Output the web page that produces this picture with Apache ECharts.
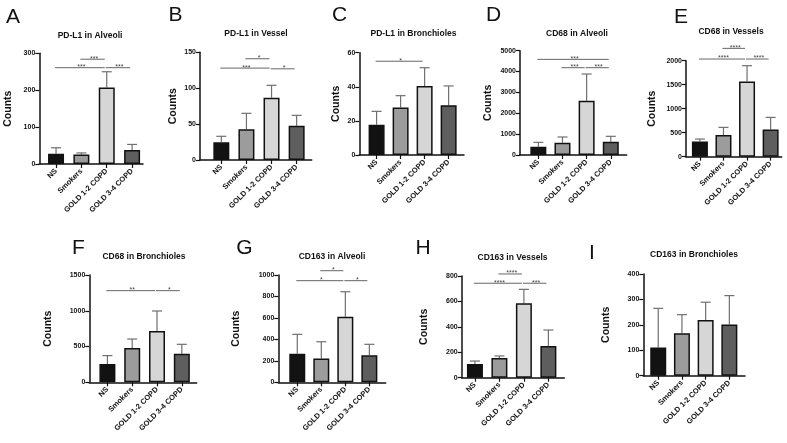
<!DOCTYPE html>
<html><head><meta charset="utf-8">
<script src="https://cdn.jsdelivr.net/npm/echarts@6/dist/echarts.min.js"></script>
<style>html,body{margin:0;padding:0;background:#fff}#c{width:787px;height:443px}</style>
</head><body><div id="c"></div>
<script>
const categories = ['NS', 'Smokers', 'GOLD 1-2 COPD', 'GOLD 3-4 COPD'];
const panelLetters = ['A', 'B', 'C', 'D', 'E', 'F', 'G', 'H', 'I'];
const panelTitles = ['PD-L1 in Alveoli', 'PD-L1 in Vessel', 'PD-L1 in Bronchioles', 'CD68 in Alveoli', 'CD68 in Vessels',
  'CD68 in Bronchioles', 'CD163 in Alveoli', 'CD163 in Vessels', 'CD163 in Bronchioles'];

const meansA = [28, 26, 207, 38];      const errTopA = [44, 30, 250, 53];
const meansB = [24.6, 42.7, 86.8, 47.8]; const errTopB = [33, 65, 104, 62.2];
const meansC = [17.8, 27.9, 40.5, 29.2]; const errTopC = [25.6, 34.8, 51.2, 40.5];
const meansD = [400, 590, 2604, 639];  const errTopD = [607, 863, 3882, 895];
const meansE = [319, 451, 1569, 569];  const errTopE = [368, 611, 1896, 819];
const meansF = [256, 480, 717, 400];   const errTopF = [373, 605, 997, 531];
const meansG = [267, 222, 611, 251];   const errTopG = [447, 378, 844, 354];
const meansH = [108, 155, 585, 249];   const errTopH = [131, 171, 695, 375];
const meansI = [111, 167, 219, 201];   const errTopI = [265, 240, 289, 315];

const ticksA = [0, 100, 200, 300];
const ticksB = [0, 50, 100, 150];
const ticksC = [0, 20, 40, 60];
const ticksD = [0, 1000, 2000, 3000, 4000, 5000];
const ticksE = [0, 500, 1000, 1500, 2000];
const ticksF = [0, 500, 1000, 1500];
const ticksG = [0, 200, 400, 600, 800, 1000];
const ticksH = [0, 200, 400, 600, 800];
const ticksI = [0, 100, 200, 300, 400];

// significance brackets: [fromGroup, toGroup, yValue, label]
const sigA = [[0, 2, 261, '***'], [1, 2, 284, '***'], [2, 3, 261, '***']];
const sigB = [[1, 2, 141, '*'], [0, 2, 128, '***'], [2, 3, 127, '*']];
const sigC = [[0, 2, 55, '*']];
const sigD = [[0, 3, 4585, '***'], [1, 2, 4185, '***'], [2, 3, 4185, '***']];
const sigE = [[1, 2, 2257, '****'], [0, 2, 2035, '****'], [2, 3, 2035, '****']];
const sigF = [[0, 2, 1281, '**'], [2, 3, 1281, '*']];
const sigG = [[1, 2, 1040, '*'], [0, 2, 947, '*'], [2, 3, 947, '*']];
const sigH = [[1, 2, 816, '****'], [0, 2, 743, '****'], [2, 3, 743, '***']];
const sigI = [];

const allMeans = [meansA, meansB, meansC, meansD, meansE, meansF, meansG, meansH, meansI];
const allErr = [errTopA, errTopB, errTopC, errTopD, errTopE, errTopF, errTopG, errTopH, errTopI];
const allTicks = [ticksA, ticksB, ticksC, ticksD, ticksE, ticksF, ticksG, ticksH, ticksI];
const allSig = [sigA, sigB, sigC, sigD, sigE, sigF, sigG, sigH, sigI];

// layout (pixels)
const layout = [
  {left: 39.3, top: 53.3, width: 103.7, height: 110.7, xmin: -0.66, xmax: 3.43, gap: 26, t: [90, 36], l: [13, 17.5]},
  {left: 200, top: 52.3, width: 111.7, height: 107.7, xmin: -0.85, xmax: 3.6, gap: 21, t: [256, 33.3], l: [175.5, 15.5]},
  {left: 359.3, top: 52.7, width: 104.7, height: 102.3, xmin: -0.72, xmax: 3.64, gap: 18, t: [413.5, 33.3], l: [339.5, 15]},
  {left: 520, top: 50.7, width: 106.7, height: 104.3, xmin: -0.76, xmax: 3.66, gap: 26, t: [577, 33.3], l: [493.5, 15]},
  {left: 686, top: 60.7, width: 95.7, height: 96, xmin: -0.59, xmax: 3.47, gap: 28, t: [731, 32], l: [681, 17.5]},
  {left: 89.3, top: 275, width: 107.4, height: 107.3, xmin: -0.73, xmax: 3.6, gap: 36, t: [144, 256.7], l: [78.5, 248.5]},
  {left: 278.3, top: 275, width: 107.4, height: 107.3, xmin: -0.79, xmax: 3.68, gap: 37, t: [332, 256.7], l: [244.5, 248.5]},
  {left: 461.7, top: 276, width: 102.6, height: 101.7, xmin: -0.54, xmax: 3.65, gap: 32, t: [512.5, 257.7], l: [423, 248.5]},
  {left: 643.3, top: 274, width: 101.7, height: 101.7, xmin: -0.63, xmax: 3.66, gap: 32, t: [694, 254.3], l: [592, 253.5]}
];

const barColors = ['#121212', '#9c9c9c', '#d6d6d6', '#5e5e5e'];
const FONT = '"Liberation Sans", Arial, sans-serif';

const grid = [], xAxis = [], yAxis = [], series = [], graphic = [];
layout.forEach((L, p) => {
  const ticks = allTicks[p];
  grid.push({left: L.left, top: L.top, width: L.width, height: L.height, containLabel: false});
  xAxis.push({
    type: 'value', gridIndex: p, min: L.xmin, max: L.xmax,
    splitLine: {show: false},
    axisLine: {show: true, onZero: false, lineStyle: {color: '#111', width: 1.5}},
    axisTick: {show: true, customValues: [0, 1, 2, 3], length: 4, lineStyle: {color: '#111', width: 1.2}},
    axisLabel: {show: true, customValues: [0, 1, 2, 3], rotate: 45, margin: 6,
      formatter: v => categories[Math.round(v)], fontSize: 7.5, fontWeight: 'bold', color: '#111', fontFamily: FONT}
  });
  yAxis.push({
    type: 'value', gridIndex: p, min: 0, max: ticks[ticks.length - 1], interval: ticks[1] - ticks[0],
    splitLine: {show: false},
    axisLine: {show: true, onZero: false, lineStyle: {color: '#111', width: 1.5}},
    axisTick: {show: true, length: 4, lineStyle: {color: '#111', width: 1.2}},
    axisLabel: {fontSize: 7, fontWeight: 'bold', color: '#111', margin: 4, fontFamily: FONT,
      formatter: v => String(v)},
    name: 'Counts', nameLocation: 'middle', nameGap: L.gap,
    nameTextStyle: {fontSize: 10.5, fontWeight: 'bold', color: '#111', fontFamily: FONT}
  });
  const means = allMeans[p], errs = allErr[p], sig = allSig[p];
  series.push({
    type: 'bar', xAxisIndex: p, yAxisIndex: p, barWidth: 16, z: 2,
    data: means.map((v, i) => ({value: [i, v], itemStyle: {color: barColors[i]}})),
    itemStyle: {borderColor: '#111', borderWidth: 1.5}
  });
  series.push({
    type: 'custom', xAxisIndex: p, yAxisIndex: p, z: 1,
    encode: {x: 0, y: [1, 2]},
    data: errs.map((e, i) => [i, means[i], e]),
    renderItem: (params, api) => {
      const p0 = api.coord([api.value(0), api.value(1)]);
      const p1 = api.coord([api.value(0), api.value(2)]);
      const st = {stroke: '#707070', lineWidth: 1.2};
      return {type: 'group', children: [
        {type: 'line', shape: {x1: p0[0], y1: p0[1], x2: p1[0], y2: p1[1]}, style: st},
        {type: 'line', shape: {x1: p1[0] - 5, y1: p1[1], x2: p1[0] + 5, y2: p1[1]}, style: st}
      ]};
    }
  });
  if (sig.length) {
    series.push({
      type: 'custom', xAxisIndex: p, yAxisIndex: p, z: 3, clip: false,
      encode: {x: [0, 1], y: 2},
      data: sig.map(s => [s[0], s[1], s[2]]),
      renderItem: (params, api) => {
        const a = api.coord([api.value(0), api.value(2)]);
        const b = api.coord([api.value(1), api.value(2)]);
        const label = sig[params.dataIndex][3];
        return {type: 'group', children: [
          {type: 'line', shape: {x1: a[0] - 1, y1: a[1], x2: b[0] - 2, y2: b[1]}, style: {stroke: '#666', lineWidth: 1}},
          {type: 'text', x: (a[0] + b[0]) / 2, y: a[1] + 3,
            style: {text: label, align: 'center', verticalAlign: 'bottom', fontSize: 7, fill: '#444', fontFamily: FONT}}
        ]};
      }
    });
  }
  graphic.push({type: 'text', x: L.t[0], y: L.t[1],
    style: {text: panelTitles[p], align: 'center', verticalAlign: 'middle', fontSize: 8.5, fontWeight: 'bold', fill: '#111', fontFamily: FONT}});
  graphic.push({type: 'text', x: L.l[0], y: L.l[1],
    style: {text: panelLetters[p], align: 'center', verticalAlign: 'middle', fontSize: 21, fill: '#111', fontFamily: FONT}});
});

const chart = echarts.init(document.getElementById('c'), null, {renderer: 'canvas'});
chart.setOption({backgroundColor: '#fff', animation: false, grid, xAxis, yAxis, series, graphic});
</script></body></html>
